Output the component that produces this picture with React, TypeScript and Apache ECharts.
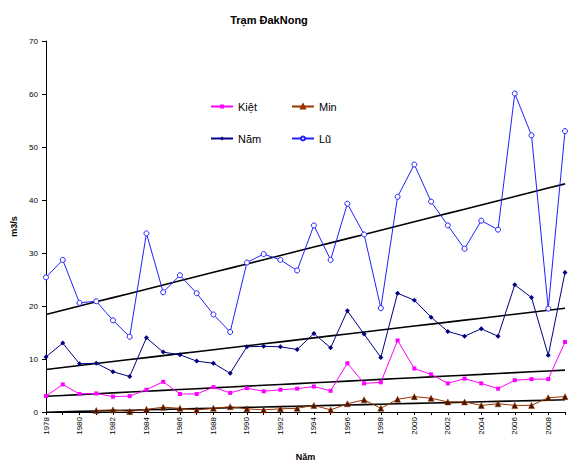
import React, { useEffect, useRef } from "react";
import * as echarts from "echarts";

const years = [
  "1978", "1979", "1980", "1981", "1982", "1983", "1984", "1985", "1986", "1987",
  "1988", "1989", "1990", "1991", "1992", "1993", "1994", "1995", "1996", "1997",
  "1998", "1999", "2000", "2001", "2002", "2003", "2004", "2005", "2006", "2007",
  "2008", "2009",
];

const kiet = [
  3.0, 5.2, 3.4, 3.5, 2.9, 3.0, 4.2, 5.7, 3.4, 3.4,
  4.7, 3.6, 4.5, 3.9, 4.2, 4.4, 4.8, 4.0, 9.2, 5.4,
  5.6, 13.5, 8.2, 7.1, 5.4, 6.3, 5.4, 4.4, 6.0, 6.2,
  6.2, 13.2,
];

const minQ: (number | null)[] = [
  null, null, null, 0.3, 0.4, 0.1, 0.5, 0.9, 0.7, 0.4,
  0.7, 1.0, 0.6, 0.4, 0.6, 0.7, 1.25, 0.4, 1.55, 2.3,
  0.7, 2.4, 2.9, 2.6, 1.9, 1.9, 1.25, 1.55, 1.25, 1.25,
  2.7, 2.9,
];

const nam = [
  10.4, 13.0, 9.1, 9.2, 7.6, 6.7, 14.0, 11.3, 10.8, 9.6,
  9.2, 7.3, 12.3, 12.4, 12.3, 11.8, 14.8, 12.1, 19.1, 14.7,
  10.3, 22.4, 21.1, 17.9, 15.2, 14.3, 15.7, 14.3, 24.0, 21.6,
  10.7, 26.3,
];

const lu = [
  25.4, 28.7, 20.6, 20.9, 17.3, 14.2, 33.7, 22.6, 25.8, 22.4,
  18.4, 15.1, 28.2, 29.8, 28.7, 26.7, 35.2, 28.7, 39.3, 33.5,
  19.6, 40.6, 46.7, 39.7, 35.2, 30.8, 36.1, 34.4, 60.1, 52.2,
  19.5, 53.0,
];

const yTicks = [0, 10, 20, 30, 40, 50, 60, 70];

// Least-squares linear trend over the category index (Excel-style trendline)
function trend(values: (number | null)[]): number[] {
  let n = 0, sx = 0, sy = 0, sxx = 0, sxy = 0;
  values.forEach((v, i) => {
    if (v === null || v === undefined) return;
    n++; sx += i; sy += v; sxx += i * i; sxy += i * v;
  });
  const b = (n * sxy - sx * sy) / (n * sxx - sx * sx);
  const a = (sy - b * sx) / n;
  return values.map((_, i) => +(a + b * i).toFixed(3));
}

const FONT = "'Liberation Sans', Arial, sans-serif";

export default function App() {
  const ref = useRef<HTMLDivElement>(null);

  useEffect(() => {
    if (!ref.current) return;
    const chart = echarts.init(ref.current, undefined, { renderer: "svg" });

    const legendBase = {
      itemWidth: 22,
      itemHeight: 5,
      itemGap: 5,
      textStyle: { fontFamily: FONT, fontSize: 11, color: "#000" },
      padding: 0,
      selectedMode: false,
    };

    const trendSeries = (vals: (number | null)[]) => ({
      type: "line",
      data: trend(vals),
      symbol: "none",
      silent: true,
      lineStyle: { color: "#000", width: 1.6 },
      z: 3,
    });

    chart.setOption({
      animation: false,
      backgroundColor: "#fff",
      title: {
        text: "Trạm ĐakNong",
        left: 264,
        top: 9,
        textAlign: "center",
        textStyle: { fontFamily: FONT, fontSize: 11, fontWeight: "bold", color: "#000" },
      },
      legend: [
        { ...legendBase, left: 210, top: 101, data: ["Kiệt"] },
        { ...legendBase, left: 291, top: 101, data: ["Min"] },
        { ...legendBase, left: 210, top: 133, data: ["Năm"] },
        { ...legendBase, left: 291, top: 133, data: ["Lũ"] },
      ],
      grid: { left: 46, right: 4, top: 41, bottom: 51, containLabel: false },
      xAxis: {
        type: "category",
        data: years,
        boundaryGap: false,
        name: "Năm",
        nameLocation: "middle",
        nameGap: 40,
        nameTextStyle: { fontFamily: FONT, fontSize: 9, fontWeight: "bold", color: "#000" },
        axisLine: { lineStyle: { color: "#000", width: 1 } },
        axisTick: { show: true, length: 3, interval: 0, lineStyle: { color: "#000" } },
        axisLabel: {
          interval: 1,
          rotate: 90,
          fontFamily: FONT,
          fontSize: 8,
          color: "#000",
          margin: 5,
        },
        splitLine: { show: false },
      },
      yAxis: {
        type: "value",
        min: 0,
        max: 70,
        interval: 10,
        name: "m3/s",
        nameLocation: "middle",
        nameGap: 27,
        nameRotate: 90,
        nameTextStyle: { fontFamily: FONT, fontSize: 9, fontWeight: "bold", color: "#000" },
        axisLine: { show: true, lineStyle: { color: "#000", width: 1 } },
        axisTick: { show: true, length: 4, lineStyle: { color: "#000" } },
        axisLabel: {
          fontFamily: FONT,
          fontSize: 8,
          color: "#000",
          margin: 8,
          formatter: (v: number) => (yTicks.includes(v) ? String(v) : ""),
        },
        splitLine: { show: false },
      },
      series: [
        {
          name: "Kiệt",
          type: "line",
          data: kiet,
          symbol: "rect",
          symbolSize: 4,
          itemStyle: { color: "#FF00FF" },
          lineStyle: { color: "#FF00FF", width: 1 },
          z: 4,
        },
        {
          name: "Min",
          type: "line",
          data: minQ,
          symbol: "triangle",
          symbolSize: 6,
          connectNulls: false,
          itemStyle: { color: "#4a1500", borderColor: "#993300", borderWidth: 0.5 },
          lineStyle: { color: "#993300", width: 1 },
          z: 4,
        },
        {
          name: "Năm",
          type: "line",
          data: nam,
          symbol: "diamond",
          symbolSize: 5,
          itemStyle: { color: "#000080" },
          lineStyle: { color: "#000080", width: 1 },
          z: 4,
        },
        {
          name: "Lũ",
          type: "line",
          data: lu,
          symbol: "circle",
          symbolSize: 5,
          itemStyle: { color: "#fff", borderColor: "#2020FF", borderWidth: 1 },
          lineStyle: { color: "#2020FF", width: 1 },
          z: 4,
        },
        trendSeries(kiet),
        trendSeries(minQ),
        trendSeries(nam),
        trendSeries(lu),
      ],
    });

    return () => chart.dispose();
  }, []);

  return <div ref={ref} style={{ width: 569, height: 466, position: "absolute", left: 0, top: 0 }} />;
}
